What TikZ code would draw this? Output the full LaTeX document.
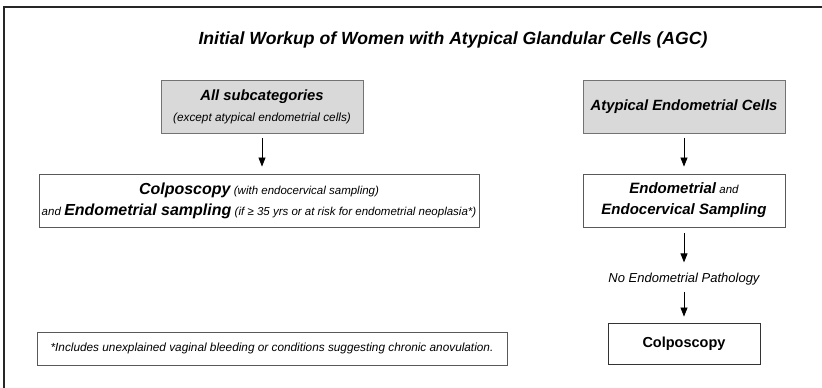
\documentclass[tikz,border=0pt]{standalone}
\usepackage{fontspec}
\setmainfont{Liberation Sans}
\usetikzlibrary{arrows.meta,shadows}
\begin{document}
\begin{tikzpicture}[x=1pt,y=-1pt,
  shad/.style={drop shadow={shadow xshift=1pt,shadow yshift=-1pt,fill=black!35,opacity=1}},
  graybox/.style={shad,draw=black!55,fill=black!15,line width=0.9pt,minimum width=202pt,minimum height=53pt,
    align=center,inner sep=0pt,font=\fontsize{12}{21}\selectfont},
  whitebox/.style={shad,draw=black!65,fill=white,line width=0.9pt,align=center,inner sep=0pt,
    font=\fontsize{12}{21}\selectfont},
  arr/.style={-{Triangle[length=9pt,width=7pt]},line width=0.8pt,black},
  lbl/.style={inner sep=0pt,font=\fontsize{13}{15}\selectfont\itshape}
]
\useasboundingbox (0,0) rectangle (822,388);
\fill[white] (0,0) rectangle (822,388);
% outer frame
\coordinate (fbl) at (4,389);
\coordinate (ftl) at (4,7);
\coordinate (ftr) at (823,7);
\draw[line width=1.8pt,black!85] (fbl) -- (ftl) -- (ftr);

% title
\node[anchor=base,inner sep=0pt] (T) at (453,44)
  {\fontsize{17.6}{20}\selectfont\bfseries\itshape Initial Workup of Women with Atypical Glandular Cells (AGC)};

% gray boxes
\node[graybox] (A) at (262,106.5)
  {{\fontsize{14.8}{21}\selectfont\bfseries\itshape All subcategories}\\
   {\fontsize{11.8}{21}\selectfont\itshape (except atypical endometrial cells)}};
\node[graybox] (B) at (684,106.5)
  {{\fontsize{14.8}{21}\selectfont\bfseries\itshape Atypical Endometrial Cells}};

% second row
\node[whitebox,minimum width=440pt,minimum height=53pt] (C) at (259,200.5)
  {{\fontsize{16}{21}\selectfont\bfseries\itshape Colposcopy} {\fontsize{11.5}{21}\selectfont\itshape (with endocervical sampling)}\\
   {\fontsize{11.5}{21}\selectfont\itshape and} {\fontsize{16}{21}\selectfont\bfseries\itshape Endometrial sampling} {\fontsize{11.5}{21}\selectfont\itshape (if ≥ 35 yrs or at risk for endometrial neoplasia*)}};
\node[whitebox,minimum width=202pt,minimum height=53pt] (D) at (684,200.5)
  {{\fontsize{15}{21}\selectfont\bfseries\itshape Endometrial} {\fontsize{11.5}{21}\selectfont\itshape and}\\
   {\fontsize{15}{21}\selectfont\bfseries\itshape Endocervical Sampling}};

% label
\node[lbl,anchor=base] (L) at (684,282) {No Endometrial Pathology};

% bottom row
\node[whitebox,draw=black!80,minimum width=152pt,minimum height=41pt] (E) at (684,343.5)
  {{\fontsize{14.5}{21}\selectfont\bfseries Colposcopy}};
\node[whitebox,minimum width=470pt,minimum height=33pt] (F) at (272,348.5)
  {{\fontsize{11.8}{21}\selectfont\itshape *Includes unexplained vaginal bleeding or conditions suggesting chronic anovulation.}};

% connectors
\draw[arr,shorten <=5pt,shorten >=7pt] (A.south) -- (A.south |- C.north);
\draw[arr,shorten <=5pt,shorten >=7pt] (B.south) -- (D.north);
\draw[arr,shorten <=6pt,shorten >=10pt] (D.south) -- (L.north);
\draw[arr,shorten <=7pt,shorten >=6pt] (L.south) -- (E.north);
\end{tikzpicture}
\end{document}
